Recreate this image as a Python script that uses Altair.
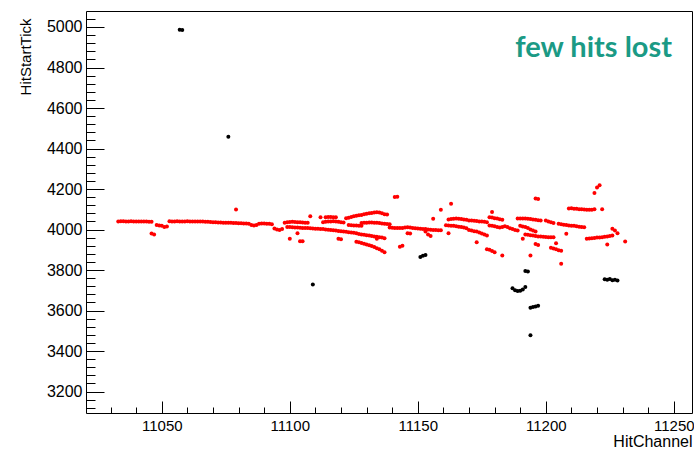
import altair as alt
import pandas as pd

# Red hits: each track is (first channel, start ticks on consecutive channels)
RED_TRACKS = [
    (11033, [4040, 4041, 4041, 4040, 4040, 4041, 4040, 4040, 4039, 4040, 4040, 4039, 4038, 4038]),
    (11046, [3980, 3975]),
    (11048, [4022, 4020, 4018, 4012, 4015]),
    (11053, [4041, 4040, 4040, 4041, 4040, 4040, 4040, 4041, 4040, 4040, 4039, 4040, 4040, 4039, 4038, 4038, 4037]),
    (11070, [4036, 4036, 4035, 4035, 4034, 4034, 4033, 4033, 4032, 4032, 4031, 4031, 4030, 4030, 4029]),
    (11079, [4099]),
    (11085, [4022, 4020, 4022, 4028, 4030, 4030, 4029, 4028, 4026]),
    (11094, [4005, 4000, 3998, 4002]),
    (11098, [4034, 4036, 4037, 4038, 4037, 4036, 4036, 4035, 4034, 4033]),
    (11099, [4012, 4012, 4011, 4010, 4010, 4009, 4008, 4008, 4007, 4006, 4005, 4004, 4004, 4003,
             4002, 4000, 3999, 3998, 3996, 3995, 3993, 3992, 3990, 3989, 3987, 3985, 3984, 3982]),
    (11100, [3954]),
    (11103, [3982]),
    (11104, [3942, 3942]),
    (11108, [4065]),
    (11112, [4061]),
    (11113, [4036, 4038, 4040, 4040, 4041, 4040, 4038, 4036, 4035]),
    (11114, [4060, 4062, 4062, 4061, 4060]),
    (11119, [3955, 3952]),
    (11122, [4056, 4058, 4062, 4066, 4068, 4070, 4072, 4075, 4078, 4080, 4082, 4084, 4085, 4084, 4080, 4076, 4074]),
    (11123, [4022, 4021, 4020, 4020, 4019, 4018]),
    (11128, [4032, 4033, 4034, 4035, 4035, 4034, 4033, 4032, 4030, 4028, 4027, 4026]),
    (11127, [3978, 3976, 3974, 3972, 3970, 3968, 3966, 3964, 3962, 3960, 3957]),
    (11126, [3940, 3937, 3933, 3930, 3926, 3922, 3918, 3914, 3908, 3902, 3895, 3888]),
    (11134, [3954]),
    (11141, [4160, 4162]),
    (11143, [3915, 3920]),
    (11139, [4010, 4009, 4008, 4008, 4007, 4008, 4010, 4011, 4010, 4008, 4006, 4005, 4004, 4003,
             4002, 4000, 3999, 3998, 3998, 3997, 3996]),
    (11146, [3982, 3980]),
    (11153, [3990, 3975, 3968]),
    (11156, [4053]),
    (11159, [4097]),
    (11163, [4127]),
    (11161, [4021, 4020, 4019, 4018, 4016, 4014, 4012, 4010, 4006, 3998, 3995, 3992, 3990, 3985, 3980, 3975, 3970]),
    (11162, [4050, 4052, 4053, 4054, 4053, 4052, 4050, 4048, 4045, 4044, 4043, 4042, 4040, 4039, 4038, 4036]),
    (11162, [3982]),
    (11173, [3937]),
    (11177, [3903, 3900, 3894, 3888]),
    (11179, [4086]),
    (11178, [4061, 4059, 4056, 4054, 4051, 4048]),
    (11178, [4020, 4018, 4016, 4012, 4010, 4013, 4016, 4012, 4006, 4002, 3998, 3995]),
    (11183, [3872]),
    (11189, [4054, 4055, 4055, 4054, 4053, 4052, 4050, 4048, 4046, 4044]),
    (11190, [4018, 4015, 4012, 4008, 4000, 3995, 3990]),
    (11191, [3954]),
    (11192, [3975, 3974, 3972, 3970, 3968, 3966, 3965, 3964, 3963, 3962, 3962, 3962]),
    (11196, [3928, 3923]),
    (11194, [3872]),
    (11196, [4153, 4151]),
    (11200, [4044, 4040, 4036, 4032]),
    (11202, [3910, 3906, 3902, 3898, 3895]),
    (11204, [3932]),
    (11206, [3831]),
    (11205, [4028, 4026, 4024, 4022, 4020, 4019, 4018, 4016, 4014, 4012, 4011]),
    (11208, [3979]),
    (11209, [4104, 4105, 4103, 4102, 4100, 4100, 4099, 4098, 4097, 4098, 4100]),
    (11222, [4100]),
    (11219, [4180]),
    (11220, [4208, 4218]),
    (11216, [3955, 3956, 3957, 3958, 3960, 3961, 3962, 3964, 3966, 3968, 3970]),
    (11224, [3926]),
    (11226, [4004, 3995, 3982]),
    (11231, [3941]),
]

# Black hits (the ones that went missing)
LOST_CHANNELS = [11057, 11058, 11076, 11109, 11151, 11152, 11153,
                 11187, 11188, 11189, 11190, 11191, 11192, 11192, 11193,
                 11194, 11195, 11196, 11197, 11194,
                 11223, 11224, 11225, 11226, 11227, 11228]
LOST_TICKS = [4987, 4985, 4458, 3728, 3864, 3870, 3874,
              3710, 3700, 3697, 3698, 3704, 3716, 3795, 3793,
              3614, 3617, 3620, 3623, 3478,
              3754, 3752, 3756, 3750, 3752, 3748]

X_DOMAIN = [11020.4, 11257.1]
Y_DOMAIN = [3094, 5079]
X_MAJOR = [11050, 11100, 11150, 11200, 11250]
X_MINOR = list(range(11030, 11251, 10))
Y_MAJOR = list(range(3200, 5001, 200))
Y_MINOR = list(range(3120, 5041, 40))

NOTE_TEXT = ["few hits lost"]
NOTE_CHANNEL = [11249.3]
NOTE_TICK = [4853]

W, H = 606, 402

red = pd.DataFrame(
    [(c0 + i, v) for c0, vals in RED_TRACKS for i, v in enumerate(vals)],
    columns=["HitChannel", "HitStartTick"],
)
lost = pd.DataFrame({"HitChannel": LOST_CHANNELS, "HitStartTick": LOST_TICKS})
note = pd.DataFrame({"HitChannel": NOTE_CHANNEL, "HitStartTick": NOTE_TICK, "label": NOTE_TEXT})

xs = alt.Scale(domain=X_DOMAIN, nice=False, zero=False)
ys = alt.Scale(domain=Y_DOMAIN, nice=False, zero=False)

FONT = "Liberation Sans"

# labelled axes (no ticks; the inward ticks come from the extra layers)
x_main = alt.Axis(values=X_MAJOR, ticks=False, domain=False, grid=False,
                  labelFont=FONT, labelFontSize=15, labelColor="black", labelPadding=5,
                  labelFlush=False, labelOverlap=False, format="d",
                  title="HitChannel", titleFont=FONT, titleFontSize=16, titleFontWeight="normal",
                  titleColor="black", titleX=W, titleY=33.5, titleAlign="right",
                  titleBaseline="alphabetic")
y_main = alt.Axis(values=Y_MAJOR, ticks=False, domain=False, grid=False,
                  labelFont=FONT, labelFontSize=16, labelColor="black", labelPadding=4,
                  labelOverlap=False, format="d",
                  title="HitStartTick", titleFont=FONT, titleFontSize=15, titleFontWeight="normal",
                  titleColor="black", titleX=-61, titleY=7, titleAngle=270,
                  titleAlign="right", titleBaseline="middle")


def tick_axis(orient, offset, values, size):
    return alt.Axis(orient=orient, offset=offset, values=values, labels=False,
                    domain=False, grid=False, ticks=True, tickSize=size,
                    tickColor="black", tickWidth=1, title="")


kept = alt.Chart(red).mark_circle(size=16, color="#ff0000", opacity=1).encode(
    x=alt.X("HitChannel:Q", scale=xs, axis=x_main),
    y=alt.Y("HitStartTick:Q", scale=ys, axis=y_main),
)

major_ticks = alt.Chart(red).mark_point(opacity=0).encode(
    x=alt.X("HitChannel:Q", scale=xs, axis=tick_axis("top", -H, X_MAJOR, 12)),
    y=alt.Y("HitStartTick:Q", scale=ys, axis=tick_axis("right", -W, Y_MAJOR, 18)),
)
minor_ticks = alt.Chart(red).mark_point(opacity=0).encode(
    x=alt.X("HitChannel:Q", scale=xs, axis=tick_axis("top", -H, X_MINOR, 6)),
    y=alt.Y("HitStartTick:Q", scale=ys, axis=tick_axis("right", -W, Y_MINOR, 9)),
)

missing = alt.Chart(lost).mark_circle(size=16, color="black", opacity=1).encode(
    x=alt.X("HitChannel:Q", scale=xs, axis=None),
    y=alt.Y("HitStartTick:Q", scale=ys, axis=None),
)

label = alt.Chart(note).mark_text(
    align="right", baseline="alphabetic", font="Lato", fontWeight="bold",
    fontSize=29, color="#1b9a85",
).encode(
    x=alt.X("HitChannel:Q", scale=xs, axis=None),
    y=alt.Y("HitStartTick:Q", scale=ys, axis=None),
    text="label:N",
)

chart = (
    alt.layer(kept, major_ticks, minor_ticks, missing, label)
    .resolve_axis(x="independent", y="independent")
    .properties(width=W, height=H, autosize=alt.AutoSizeParams(type="none"),
                padding={"left": 86, "top": 11, "right": 2, "bottom": 36},
                background="white")
    .configure_view(stroke="black", strokeWidth=1)
)

chart.save("out.html", embed_options={"renderer": "svg", "actions": False})
